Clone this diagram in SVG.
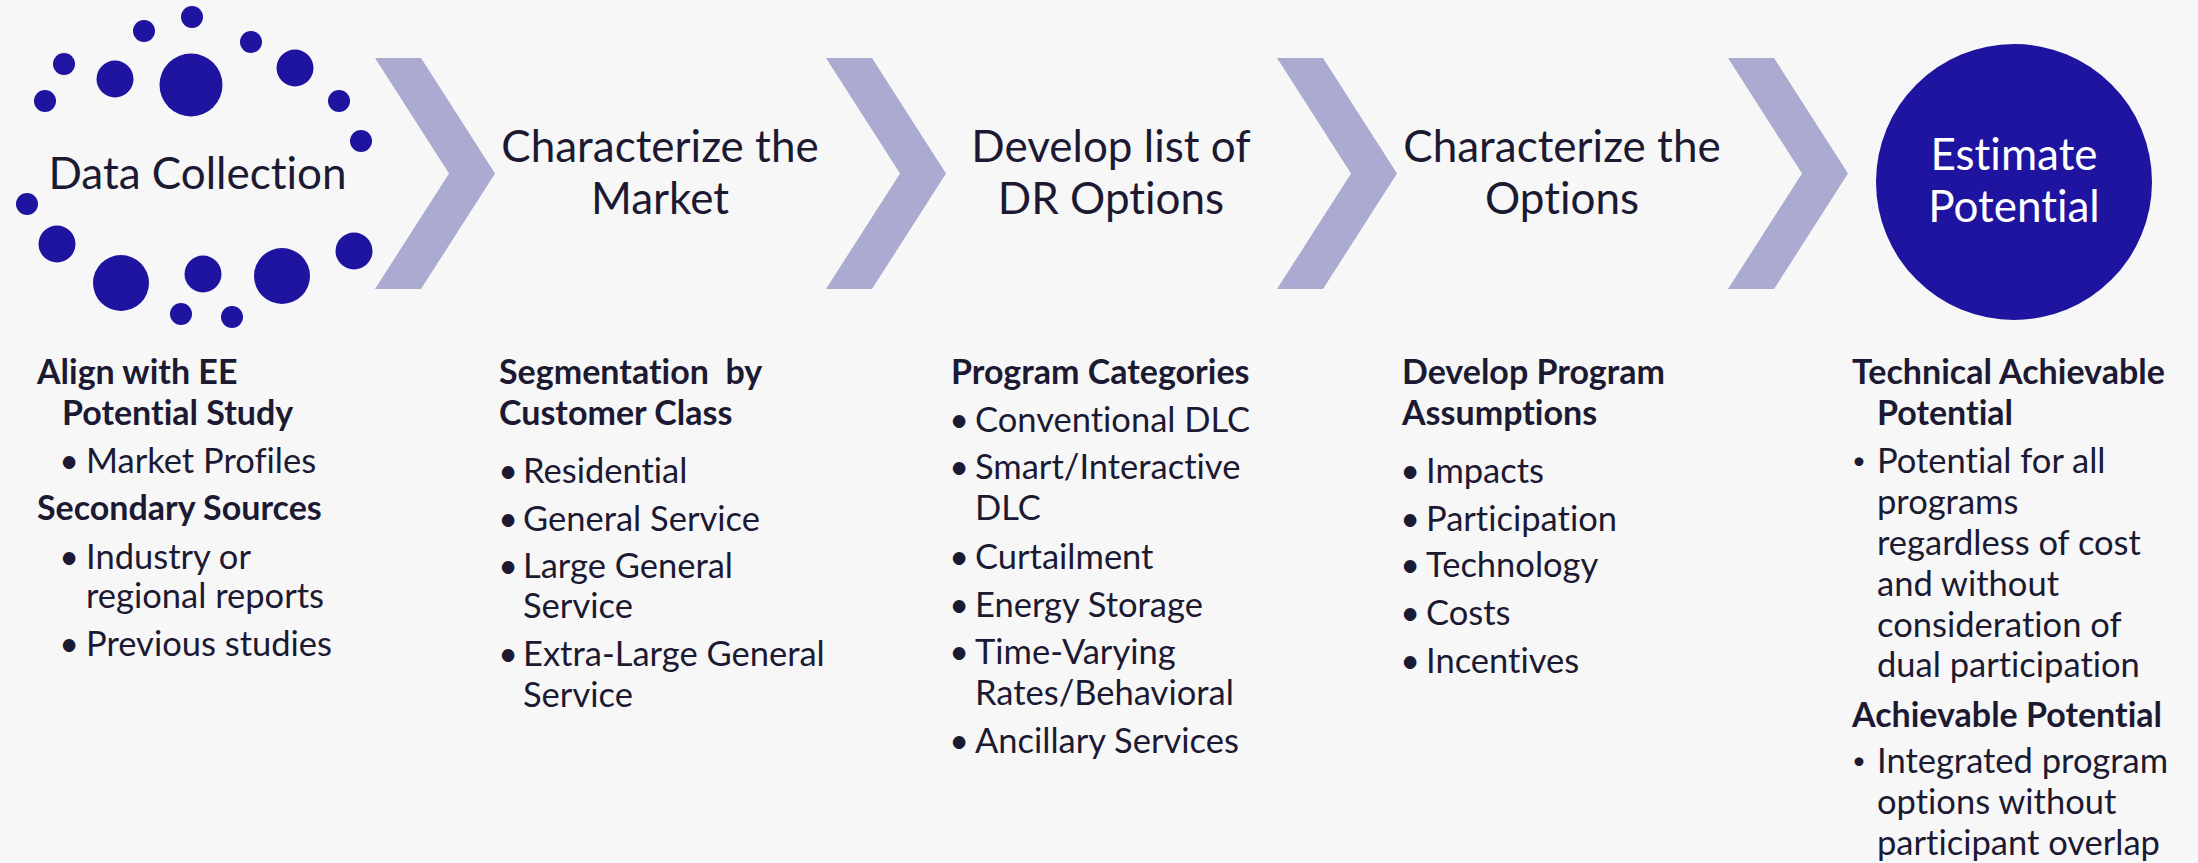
<svg xmlns="http://www.w3.org/2000/svg" width="2198" height="863" viewBox="0 0 2198 863">
<style>
text{font-variant-ligatures:none;font-feature-settings:"liga" 0,"dlig" 0}
.bg{fill:#F7F7F7}
.dot{fill:#1E14A0}
.chev{fill:#ABABD2}
.title{font-family:Lato,"Liberation Sans",sans-serif;font-size:44px;fill:#1C1A33;text-anchor:middle}
.wtitle{font-family:Lato,"Liberation Sans",sans-serif;font-size:44px;fill:#FFFFFF;text-anchor:middle}
.h{font-family:Lato,"Liberation Sans",sans-serif;font-size:34px;font-weight:bold;fill:#1C1A33}
.t{font-family:Lato,"Liberation Sans",sans-serif;font-size:34.5px;fill:#1C1A33}
.b{font-family:Lato,"Liberation Sans",sans-serif;font-size:34px;fill:#1C1A33;text-anchor:middle}
.bs{font-family:Lato,"Liberation Sans",sans-serif;font-size:24px;fill:#1C1A33;text-anchor:middle}
</style>
<rect class="bg" x="0" y="0" width="2198" height="863"/>
<g id="connectors">
<polygon class="chev" points="375,58 421,58 495,173.5 421,289 375,289 449,173.5"/>
<polygon class="chev" points="826,58 872,58 946,173.5 872,289 826,289 900,173.5"/>
<polygon class="chev" points="1277,58 1323,58 1397,173.5 1323,289 1277,289 1351,173.5"/>
<polygon class="chev" points="1728,58 1774,58 1848,173.5 1774,289 1728,289 1802,173.5"/>
</g>
<g id="data-collection">
<g id="dots">
<circle class="dot" cx="192" cy="17" r="11"/>
<circle class="dot" cx="144" cy="31" r="11"/>
<circle class="dot" cx="251" cy="42" r="11"/>
<circle class="dot" cx="64" cy="64" r="11"/>
<circle class="dot" cx="115" cy="79" r="18.5"/>
<circle class="dot" cx="191" cy="85" r="31.5"/>
<circle class="dot" cx="295" cy="68" r="18.5"/>
<circle class="dot" cx="45" cy="101" r="11"/>
<circle class="dot" cx="339" cy="101" r="11"/>
<circle class="dot" cx="361" cy="141" r="11"/>
<circle class="dot" cx="27" cy="204" r="11"/>
<circle class="dot" cx="57" cy="244" r="18.5"/>
<circle class="dot" cx="121" cy="283" r="28"/>
<circle class="dot" cx="203" cy="274" r="18.5"/>
<circle class="dot" cx="282" cy="276" r="28"/>
<circle class="dot" cx="354" cy="251" r="18.5"/>
<circle class="dot" cx="181" cy="314" r="11"/>
<circle class="dot" cx="232" cy="317" r="11"/>
</g>
<text class="title" x="197.5" y="189">Data Collection</text>
</g>
<g id="characterize-market">
<text class="title" x="660" y="162">Characterize the</text>
<text class="title" x="660" y="214">Market</text>
</g>
<g id="develop-list">
<text class="title" x="1111" y="162">Develop list of</text>
<text class="title" x="1111" y="214">DR Options</text>
</g>
<g id="characterize-options">
<text class="title" x="1562" y="162">Characterize the</text>
<text class="title" x="1562" y="214">Options</text>
</g>
<g id="estimate-potential">
<circle class="dot" cx="2014" cy="182" r="138"/>
<text class="wtitle" x="2014" y="170">Estimate</text>
<text class="wtitle" x="2014" y="222">Potential</text>
</g>
<g id="col1">
<text class="h" x="37" y="384">Align with EE</text>
<text class="h" x="62" y="425">Potential Study</text>
<text class="b" x="69" y="473">•</text><text class="t" x="86" y="473">Market Profiles</text>
<text class="h" x="37" y="520">Secondary Sources</text>
<text class="b" x="69" y="569">•</text><text class="t" x="86" y="569">Industry or</text>
<text class="t" x="86" y="608">regional reports</text>
<text class="b" x="69" y="656">•</text><text class="t" x="86" y="656">Previous studies</text>
</g>
<g id="col2">
<text class="h" x="499" y="384" xml:space="preserve">Segmentation  by</text>
<text class="h" x="499" y="425">Customer Class</text>
<text class="b" x="508" y="483">•</text><text class="t" x="523" y="483">Residential</text>
<text class="b" x="508" y="531">•</text><text class="t" x="523" y="531">General Service</text>
<text class="b" x="508" y="578">•</text><text class="t" x="523" y="578">Large General</text>
<text class="t" x="523" y="618">Service</text>
<text class="b" x="508" y="666">•</text><text class="t" x="523" y="666">Extra-Large General</text>
<text class="t" x="523" y="707">Service</text>
</g>
<g id="col3">
<text class="h" x="951" y="384">Program Categories</text>
<text class="b" x="959" y="432">•</text><text class="t" x="975" y="432">Conventional DLC</text>
<text class="b" x="959" y="479">•</text><text class="t" x="975" y="479">Smart/Interactive</text>
<text class="t" x="975" y="520">DLC</text>
<text class="b" x="959" y="569">•</text><text class="t" x="975" y="569">Curtailment</text>
<text class="b" x="959" y="617">•</text><text class="t" x="975" y="617">Energy Storage</text>
<text class="b" x="959" y="664">•</text><text class="t" x="975" y="664">Time-Varying</text>
<text class="t" x="975" y="705">Rates/Behavioral</text>
<text class="b" x="959" y="753">•</text><text class="t" x="975" y="753">Ancillary Services</text>
</g>
<g id="col4">
<text class="h" x="1402" y="384">Develop Program</text>
<text class="h" x="1402" y="425">Assumptions</text>
<text class="b" x="1410" y="483">•</text><text class="t" x="1426" y="483">Impacts</text>
<text class="b" x="1410" y="531">•</text><text class="t" x="1426" y="531">Participation</text>
<text class="b" x="1410" y="577">•</text><text class="t" x="1426" y="577">Technology</text>
<text class="b" x="1410" y="625">•</text><text class="t" x="1426" y="625">Costs</text>
<text class="b" x="1410" y="673">•</text><text class="t" x="1426" y="673">Incentives</text>
</g>
<g id="col5">
<text class="h" x="1852" y="384">Technical Achievable</text>
<text class="h" x="1877" y="425">Potential</text>
<text class="bs" x="1859" y="469">•</text><text class="t" x="1877" y="473">Potential for all</text>
<text class="t" x="1877" y="514">programs</text>
<text class="t" x="1877" y="555">regardless of cost</text>
<text class="t" x="1877" y="596">and without</text>
<text class="t" x="1877" y="637">consideration of</text>
<text class="t" x="1877" y="677">dual participation</text>
<text class="h" x="1852" y="727">Achievable Potential</text>
<text class="bs" x="1859" y="769">•</text><text class="t" x="1877" y="773">Integrated program</text>
<text class="t" x="1877" y="814">options without</text>
<text class="t" x="1877" y="855">participant overlap</text>
</g>
</svg>
